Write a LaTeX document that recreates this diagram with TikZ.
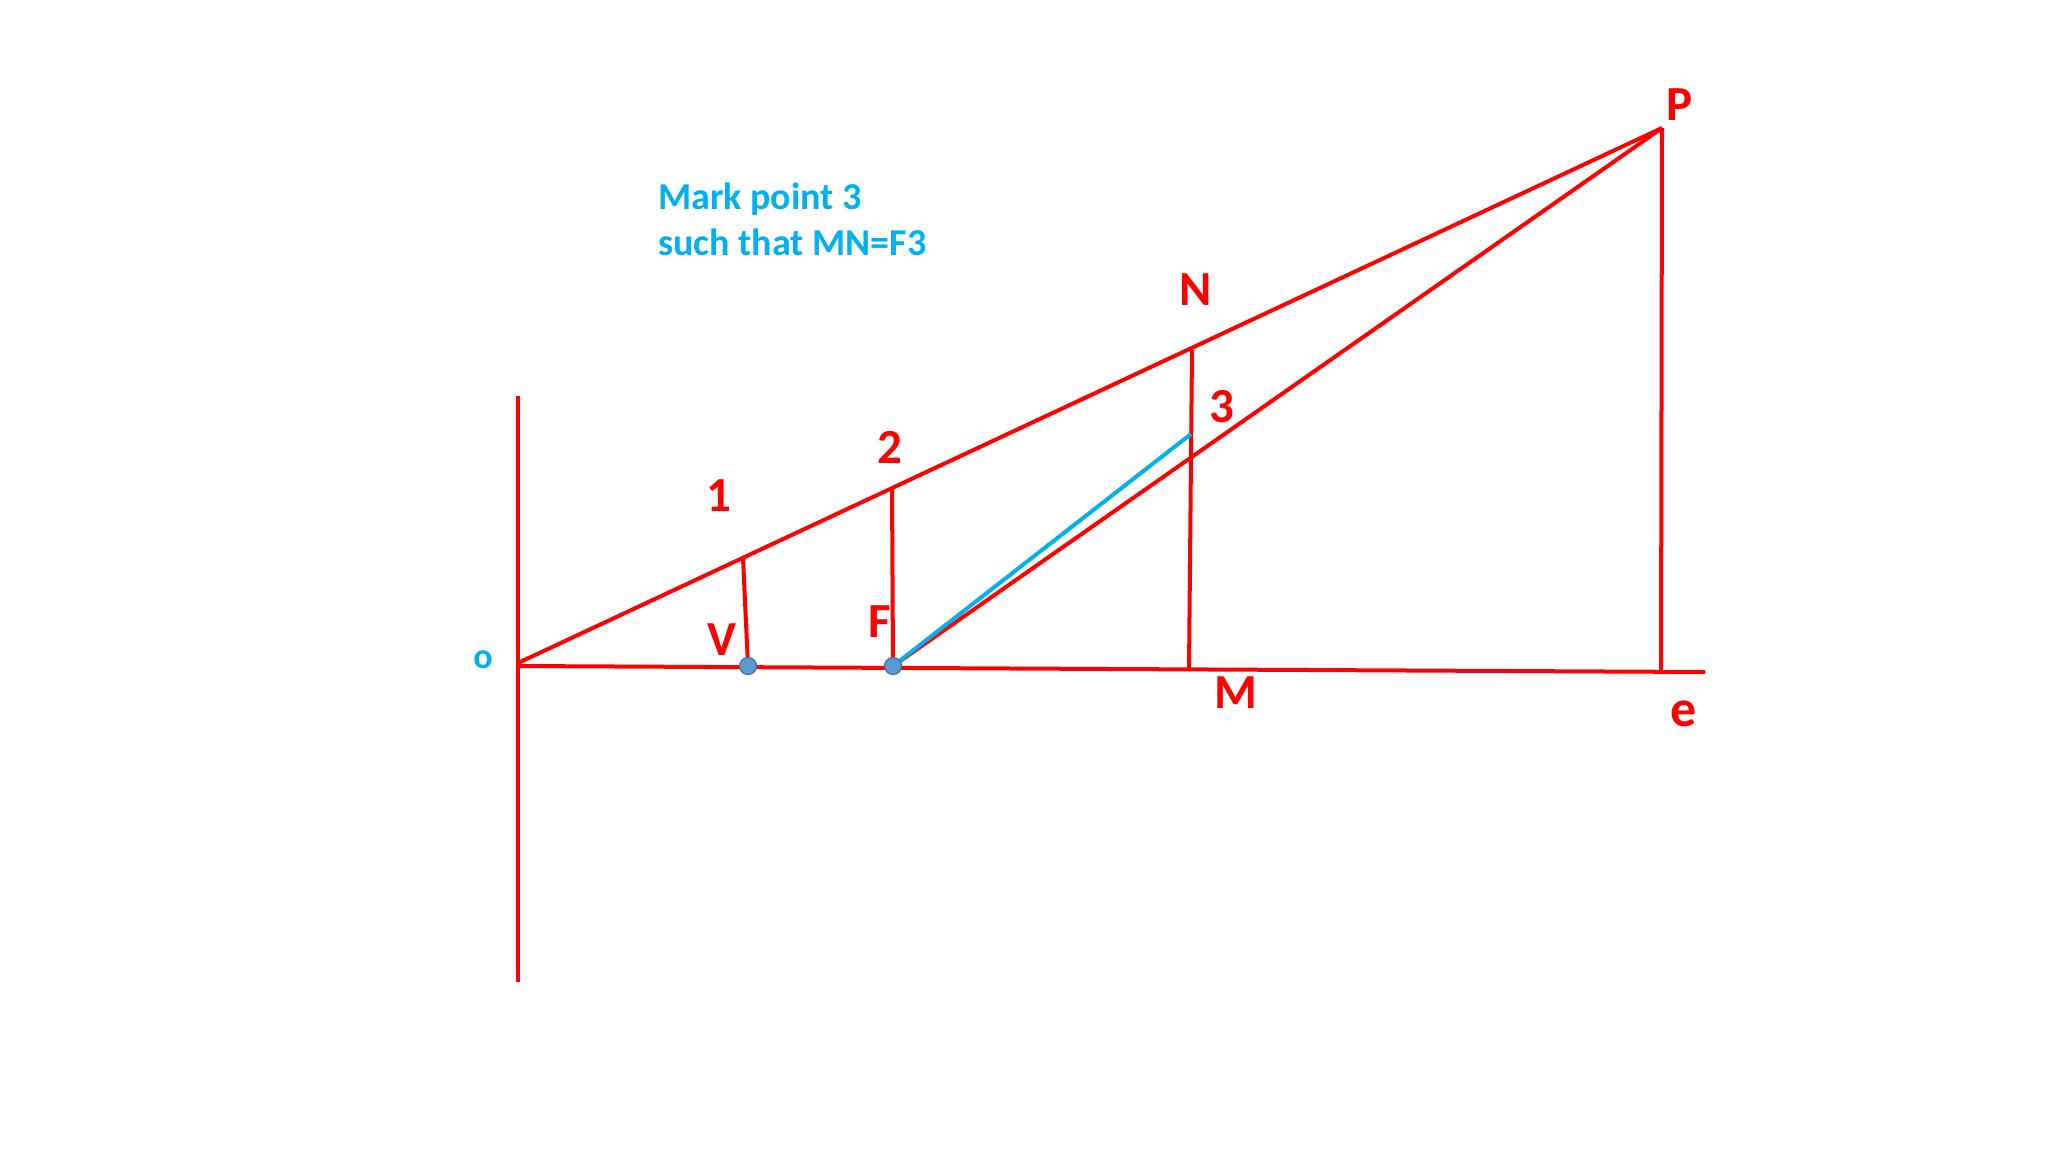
\documentclass[tikz,border=0pt]{standalone}
\usepackage{fontspec}
\setmainfont{Carlito}
\definecolor{redline}{HTML}{FF0000}
\definecolor{txtblue}{HTML}{00B0F0}
\definecolor{dotfill}{HTML}{5B9BD5}
\definecolor{dotedge}{HTML}{41719C}
\begin{document}
\begin{tikzpicture}[x=1pt,y=-1pt,
  redln/.style={draw=redline,line width=4pt},
  blueln/.style={draw=txtblue,line width=4pt},
  lbl/.style={text=redline,inner sep=0pt,font=\bfseries\fontsize{49}{49}\selectfont},
  dot/.style={circle,fill=dotfill,draw=dotedge,line width=1.2pt,minimum size=17pt,inner sep=0pt}]
\useasboundingbox[fill=white] (0,0) rectangle (2048,1152);
% points
\coordinate (O) at (518,663);
\coordinate (Otop) at (518,396);
\coordinate (Obot) at (518,982);
\coordinate (Ho) at (518,666);
\coordinate (Hend) at (1705,672);
\coordinate (P) at (1662,128);
\coordinate (E) at (1661,671);
\coordinate (P1) at (743,558);
\coordinate (V) at (748,666);
\coordinate (P2) at (892,488);
\coordinate (F) at (893,666);
\coordinate (N) at (1192,350);
\coordinate (M) at (1189,669);
\coordinate (T) at (1191,434);
% lines
\draw[redln] (Otop) -- (Obot);
\draw[redln] (Ho) -- (Hend);
\draw[redln] (O) -- (P);
\draw[redln] (P) -- (E);
\draw[redln] (P1) -- (V);
\draw[redln] (P2) -- (F);
\draw[redln] (N) -- (M);
\draw[redln] (F) -- (P);
\draw[blueln] (F) -- (T);
\node[dot] (Vdot) at (V) {};
\node[dot] (Fdot) at (F) {};
% labels
\node[lbl] (lP) at (1680,105) {P};
\node[lbl] (lN) at (1196,290) {N};
\node[lbl] (l3) at (1222,407) {3};
\node[lbl] (l2) at (890,447) {2};
\node[lbl] (l1) at (719,496) {1};
\node[lbl] (lF) at (880,622) {F};
\node[lbl] (lV) at (722,640) {V};
\node[lbl] (lM) at (1236,693) {M};
\node[lbl,font=\bfseries\fontsize{52}{52}\selectfont] (le) at (1684,714) {e};
\node[text=txtblue,inner sep=0pt,font=\bfseries\fontsize{36}{36}\selectfont] (lo) at (483,660) {o};
\node[text=txtblue,inner sep=0pt,anchor=base west,font=\bfseries\fontsize{38}{44}\selectfont] (note1) at (658,209) {Mark point 3};
\node[text=txtblue,inner sep=0pt,anchor=base west,font=\bfseries\fontsize{38}{44}\selectfont] (note2) at (658,255) {such that MN=F3};
\end{tikzpicture}
\end{document}
